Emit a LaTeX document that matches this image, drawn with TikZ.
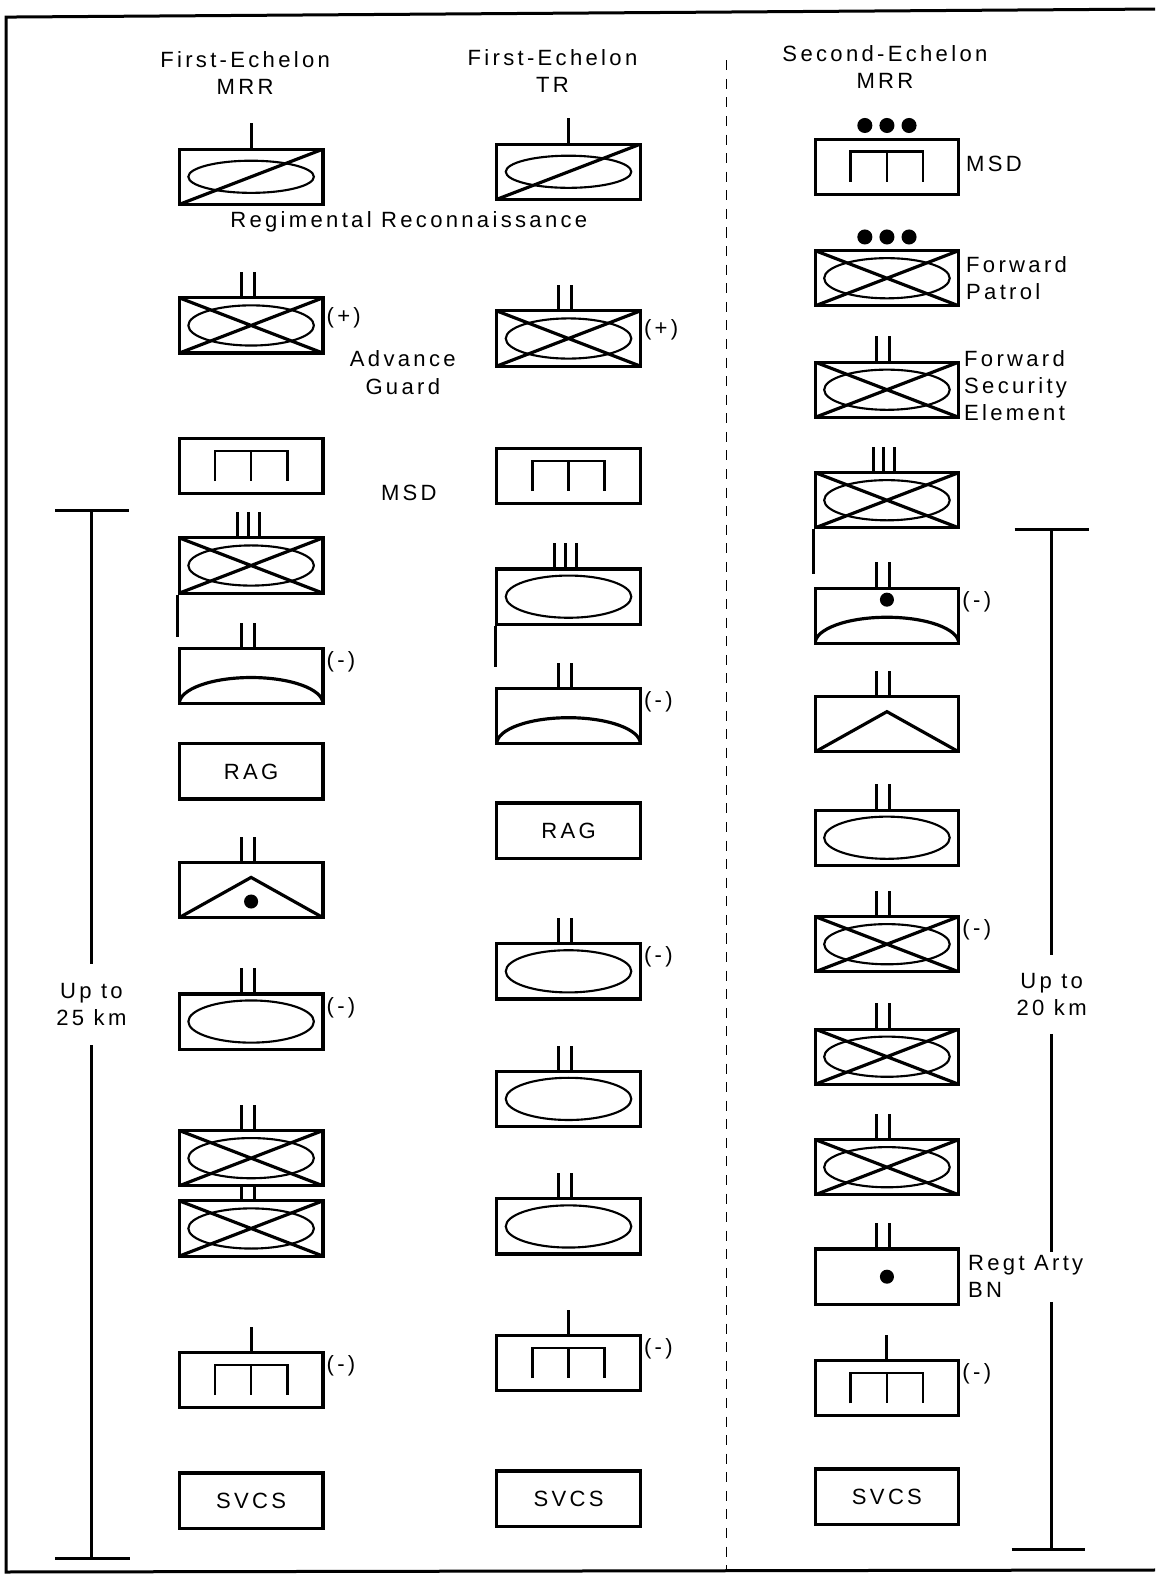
\documentclass[tikz,border=0pt]{standalone}
\usepackage{fontspec}
\setmainfont[LetterSpace=15]{Liberation Sans}
\usetikzlibrary{positioning,calc}

\begin{document}
\begin{tikzpicture}[x=0.02cm,y=-0.02cm,
      font=\fontsize{12.5}{15.5}\selectfont,
      unit/.style={draw,line width=1.8pt,minimum width=2.86cm,minimum height=1.1cm,inner sep=0pt},
      armor/.style={unit,path picture={
          \draw[line width=1.2pt] (path picture bounding box.center) ellipse (1.25cm and 0.42cm);}},
      mech/.style={unit,path picture={
          \draw[line width=1.2pt] (path picture bounding box.center) ellipse (1.25cm and 0.4cm);
          \draw[line width=1.8pt] (path picture bounding box.south west) -- (path picture bounding box.north east)
            (path picture bounding box.north west) -- (path picture bounding box.south east);}},
      recon/.style={unit,path picture={
          \draw[line width=1.2pt] (path picture bounding box.center) ellipse (1.25cm and 0.32cm);
          \draw[line width=1.8pt] (path picture bounding box.south west) -- (path picture bounding box.north east);}},
      supply/.style={unit,path picture={
          \draw[line width=1.5pt] ([shift={(-0.72cm,-0.3cm)}]path picture bounding box.center) -- ++(0,0.6cm) -- ++(1.44cm,0) -- ++(0,-0.6cm)
            ([yshift=0.3cm]path picture bounding box.center) -- ++(0,-0.6cm);}},
      arcbox/.style={unit,path picture={
          \draw[line width=1.8pt] (path picture bounding box.south west) arc[start angle=180,end angle=0,x radius=1.43cm,y radius=0.52cm];}},
      chevron/.style={unit,path picture={
          \draw[line width=1.8pt] (path picture bounding box.south west) -- ([yshift=-0.3cm]path picture bounding box.north) -- (path picture bounding box.south east);}},
      tag/.style={inner sep=1pt,anchor=west},
      side/.style={inner sep=2pt,anchor=west,align=left},
      ech/.style={line width=1.7pt}]
    \useasboundingbox (0,0) rectangle (1150,1568);
    \draw[line width=1.7pt] (1150,9) -- (6,17) -- (6,1565) -- (1150,1563);

    \node[align=center] (h1) at (244,73) {First-Echelon\\MRR};
    \node[align=center] (h2) at (550,71) {First-Echelon\\TR};
    \node[align=center] (h3) at (881,67) {Second-Echelon\\MRR};

    \node[recon] (a1) at (250,176) {};
    \node[mech] (a2) at (250,324) {};
    \node[supply] (a3) at (250,464) {};
    \node[mech] (a4) at (250,563) {};
    \node[arcbox] (a5) at (250,673) {};
    \node[unit] (a6) at (250,768) {RAG};
    \node[chevron] (a7) at (250,886) {};
    \node[armor] (a8) at (250,1017) {};
    \node[mech] (a9) at (250,1153) {};
    \node[mech] (a10) at (250,1223) {};
    \node[supply] (a11) at (250,1374) {};
    \node[unit] (a12) at (250,1494) {SVCS};

    \node[recon] (b1) at (566,171) {};
    \node[mech] (b2) at (566,337) {};
    \node[supply] (b3) at (566,474) {};
    \node[armor] (b4) at (566,594) {};
    \node[arcbox] (b5) at (566,713) {};
    \node[unit] (b6) at (566,827) {RAG};
    \node[armor] (b7) at (566,967) {};
    \node[armor] (b8) at (566,1094) {};
    \node[armor] (b9) at (566,1221) {};
    \node[supply] (b10) at (566,1357) {};
    \node[unit] (b11) at (566,1492) {SVCS};

    \node[supply] (c1) at (883,166) {};
    \node[mech] (c2) at (883,277) {};
    \node[mech] (c3) at (883,388) {};
    \node[mech] (c4) at (883,498) {};
    \node[arcbox] (c5) at (883,613) {};
    \node[chevron] (c6) at (883,721) {};
    \node[armor] (c7) at (883,834) {};
    \node[mech] (c8) at (883,940) {};
    \node[mech] (c9) at (883,1052) {};
    \node[mech] (c10) at (883,1162) {};
    \node[unit] (c11) at (883,1271) {};
    \node[supply] (c12) at (883,1382) {};
    \node[unit] (c13) at (883,1490) {SVCS};

    \foreach \u in {a1,b1,a11,b10,c12}
      \draw[ech] (\u.north) -- ++(0,-24);
    \foreach \u in {a2,a5,a7,a8,a9,b2,b5,b7,b8,b9,c3,c5,c6,c7,c8,c9,c10,c11}
      \draw[ech] ([xshift=-0.2cm]\u.north) -- ++(0,-24) ([xshift=0.06cm]\u.north) -- ++(0,-24);
    \draw[ech] ([xshift=-0.2cm]a10.north) -- ([xshift=-0.2cm]a10.north |- a9.south)
      ([xshift=0.06cm]a10.north) -- ([xshift=0.06cm]a10.north |- a9.south);
    \foreach \u in {a4,b4,c4}
      \draw[ech] ([xshift=-0.27cm]\u.north) -- ++(0,-24) ([xshift=-0.06cm]\u.north) -- ++(0,-24)
        ([xshift=0.16cm]\u.north) -- ++(0,-24);
    \foreach \u in {c1,c2}
      \foreach \dx in {-0.44,0,0.44}
        \fill ([shift={(\dx cm,0.24cm)}]\u.north) circle (0.15cm);
    \fill ([yshift=-0.23cm]a7.center) circle (0.14cm);
    \fill ([yshift=0.32cm]c5.center) circle (0.14cm);
    \fill (c11.center) circle (0.14cm);
    \draw[ech] (a4.south west) -- ++(0,42);
    \draw[ech] (b4.south west) -- ++(0,41);
    \draw[ech] (c4.south west) -- ++(0,44);

    \node (reg) at (407,221) {Regimental Reconnaissance};
    \node[align=center] (adv) at (401,371) {Advance\\Guard};
    \node (msd1) at (407,491) {MSD};
    \node[side] (msd3) at (958,163) {MSD};
    \node[side] (fp) at (958,277) {Forward\\Patrol};
    \node[side] (fse) at (956,384) {Forward\\Security\\Element};
    \node[side] (arty) at (960,1271) {Regt Arty\\BN};

    \node[tag] at ([yshift=0.16cm]a2.east) {(+)};
    \node[tag] at ([yshift=0.18cm]b2.east) {(+)};
    \foreach \u in {a5,a8,a11,b5,b7,b10,c5,c8,c12}
      \node[tag] at ([yshift=0.28cm]\u.east) {(-)};

    \coordinate (lt) at (91,508);
    \coordinate (lb) at (91,1552);
    \node[align=center,minimum height=1.6cm] (rng1) at (91,1000) {Up to\\25 km};
    \draw[ech] ([xshift=-0.72cm]lt) -- ([xshift=0.74cm]lt) ([xshift=-0.72cm]lb) -- ([xshift=0.76cm]lb);
    \draw[ech] (lt) -- (rng1) (rng1) -- (lb);

    \coordinate (rt) at (1047,527);
    \coordinate (rb) at (1047,1543);
    \node[align=center,minimum height=1.56cm] (rng2) at (1047,990) {Up to\\20 km};
    \draw[ech] ([xshift=-0.74cm]rt) -- ([xshift=0.74cm]rt) ([xshift=-0.8cm]rb) -- ([xshift=0.66cm]rb);
    \draw[ech] (rt) -- (rng2) (rng2.south) -- (rng2.south |- arty.north) (rng2.south |- arty.south) -- (rb);

    \coordinate (d1) at (723,60);
    \coordinate (d2) at (723,1562);
    \draw[line width=0.6pt,dash pattern=on 0.2cm off 0.17cm] (d1) -- (d2);
  \end{tikzpicture}
\end{document}
